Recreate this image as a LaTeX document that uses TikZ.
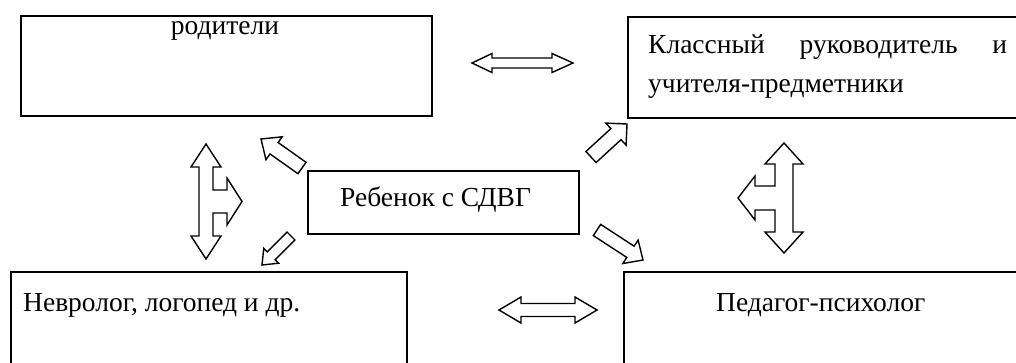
\documentclass[tikz,border=0pt]{standalone}
\usepackage{fontspec}
\setmainfont{Liberation Serif}
\usetikzlibrary{calc}
\tikzset{
  box/.style={draw, line width=1.8pt, rectangle, inner sep=0pt},
  lbl/.style={font=\fontsize{27.5}{39}\selectfont, inner sep=0pt},
  barrow/.style={draw, line width=1.4pt, fill=white, line join=miter}
}
\newcommand{\blockarr}[5]{%
  \coordinate (H) at ($(#2)!#5!(#1)$);
  \draw[barrow] ($(#1)!#3!90:(#2)$) -- ($(H)!#3!-90:(#1)$) -- ($(H)!#4!-90:(#1)$)
    -- (#2) -- ($(H)!#4!90:(#1)$) -- ($(H)!#3!90:(#1)$) -- ($(#1)!#3!-90:(#2)$) -- cycle;
}
\begin{document}
\begin{tikzpicture}[x=1pt,y=-1pt]
\useasboundingbox (0,0) rectangle (1016,363);
\clip (0,0) rectangle (1016,363);
% boxes
\node[box, minimum width=411pt, minimum height=100pt, anchor=north west] (par) at (20,15) {};
\node[box, minimum width=403pt, minimum height=101pt, anchor=north west] (teach) at (627,16) {};
\node[box, minimum width=271pt, minimum height=63pt, anchor=north west] (child) at (307,170) {};
\node[box, minimum width=396pt, minimum height=110pt, anchor=north west] (neuro) at (10,271) {};
\node[box, minimum width=407pt, minimum height=110pt, anchor=north west] (psy) at (623,271) {};
% texts
\node[lbl, anchor=base] (tpar) at (225,35) {родители};
\node[lbl, anchor=base west] (tteach1) at (648,54) {\makebox[359pt][s]{Классный\hfill руководитель\hfill и}};
\node[lbl, anchor=base west] (tteach2) at (648,93) {учителя-предметники};
\node[lbl, anchor=base west] (tchild) at (340,207) {Ребенок с СДВГ};
\node[lbl, anchor=base west] (tneuro) at (23,311) {Невролог, логопед и др.};
\node[lbl, anchor=base west] (tpsy) at (716,311) {Педагог-психолог};
% horizontal double arrows
\draw[barrow] (472,63) -- (492,53.5) -- (492,58) -- (552,58) -- (552,53.5) -- (573,63)
  -- (552,72.5) -- (552,68) -- (492,68) -- (492,72.5) -- cycle;
\draw[barrow] (499,310) -- (521,297) -- (521,303.5) -- (575,303.5) -- (575,297) -- (597,310)
  -- (575,323) -- (575,316.5) -- (521,316.5) -- (521,323) -- cycle;
% left branched arrow
\draw[barrow] (206,144) -- (221,167) -- (213,167) -- (213,190) -- (227,190) -- (227,178)
  -- (242,201.5) -- (227,225) -- (227,213) -- (213,213) -- (213,236) -- (221,236)
  -- (206,259) -- (191,236) -- (199,236) -- (199,167) -- (191,167) -- cycle;
% right branched arrow
\draw[barrow] (784,143) -- (803,164) -- (793,164) -- (793,232) -- (803,232) -- (784,253)
  -- (765,232) -- (775,232) -- (775,210) -- (755,210) -- (755,220) -- (738,198)
  -- (755,176) -- (755,186) -- (775,186) -- (775,164) -- (765,164) -- cycle;
% diagonal arrows
\coordinate (a1t) at (302,168); \coordinate (a1p) at (261,139);
\coordinate (a2t) at (591,157); \coordinate (a2p) at (627,124);
\coordinate (a3t) at (291,236); \coordinate (a3p) at (262,265);
\coordinate (a4t) at (597,230); \coordinate (a4p) at (643,260);
\blockarr{a1t}{a1p}{7pt}{14pt}{16pt}
\blockarr{a2t}{a2p}{7.5pt}{15pt}{15pt}
\blockarr{a3t}{a3p}{5.5pt}{10.5pt}{13pt}
\blockarr{a4t}{a4p}{6.7pt}{14pt}{15pt}
\end{tikzpicture}
\end{document}
